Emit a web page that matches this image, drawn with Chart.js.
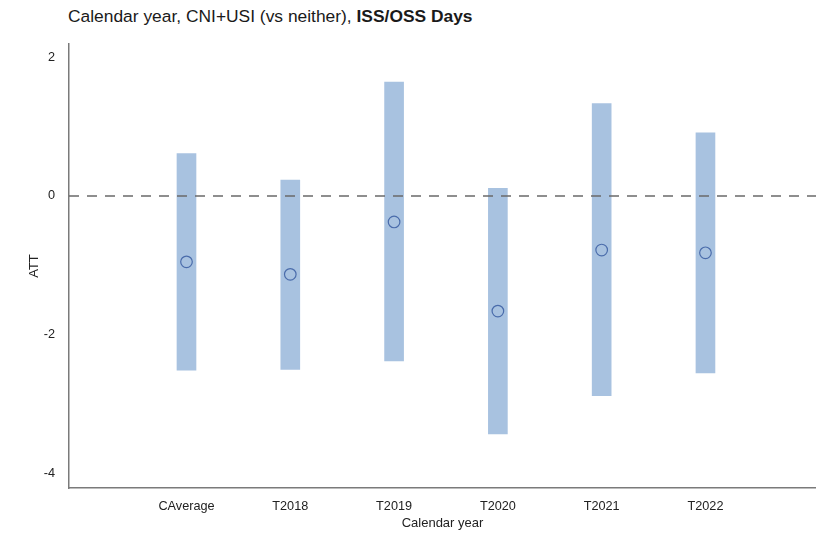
<!DOCTYPE html>
<html>
<head>
<meta charset="utf-8">
<script src="https://cdn.jsdelivr.net/npm/chart.js@4.4.1/dist/chart.umd.min.js"></script>
<style>
  html, body { margin: 0; padding: 0; background: #ffffff; }
  #wrap { position: relative; width: 816px; height: 538px; }
  #title {
    position: absolute; left: 68px; top: 8px;
    font-family: "Liberation Sans", Arial, sans-serif;
    font-size: 17.4px; line-height: 17.4px; color: #1a1a1a; white-space: nowrap;
  }
  canvas { position: absolute; left: 0; top: 0; }
</style>
</head>
<body>
<div id="wrap">
  <div id="title">Calendar year, CNI+USI (vs neither), <b>ISS/OSS Days</b></div>
  <canvas id="c" width="816" height="538"></canvas>
</div>
<script>
// Treatment effect estimates by calendar year, with interval bounds
const categories = ['CAverage', 'T2018', 'T2019', 'T2020', 'T2021', 'T2022'];
const estimates  = [-0.95, -1.13, -0.375, -1.66, -0.78, -0.82];
const lowerBound = [-2.51, -2.50, -2.38, -3.43, -2.88, -2.55];
const upperBound = [0.61, 0.23, 1.64, 0.11, 1.33, 0.91];
const yTicks     = [-4, -2, 0, 2];

const xMin = -1.132, xMax = 6.065;
const yMin = -4.21, yMax = 2.19;

const font = "'Liberation Sans', Arial, sans-serif";

const intervalData = categories.map((_, i) => ({ x: i, y: [lowerBound[i], upperBound[i]] }));
const pointData = categories.map((_, i) => ({ x: i, y: estimates[i] }));
const zeroLine = [{ x: xMin, y: 0 }, { x: xMax, y: 0 }];

new Chart(document.getElementById('c'), {
  type: 'bar',
  data: {
    datasets: [
      {
        type: 'scatter',
        data: pointData,
        order: 0,
        pointStyle: 'circle',
        pointRadius: 5.8,
        pointBorderWidth: 1.2,
        pointBorderColor: '#4a6cab',
        pointBackgroundColor: 'rgba(0,0,0,0)'
      },
      {
        type: 'line',
        data: zeroLine,
        order: 1,
        borderColor: '#6a6a6a',
        borderWidth: 1.5,
        borderDash: [10, 8],
        pointRadius: 0,
        fill: false
      },
      {
        type: 'bar',
        data: intervalData,
        order: 2,
        backgroundColor: '#a8c2e0',
        borderWidth: 0,
        barThickness: 19
      }
    ]
  },
  options: {
    responsive: false,
    animation: false,
    layout: { autoPadding: false, padding: { top: 44, right: 0, bottom: 0, left: 0 } },
    plugins: { legend: { display: false }, tooltip: { enabled: false }, title: { display: false } },
    scales: {
      x: {
        type: 'linear',
        min: xMin,
        max: xMax,
        offset: false,
        grid: { display: false, drawTicks: false },
        border: { display: true, color: '#7a7a7a', width: 1.5 },
        afterBuildTicks: (axis) => { axis.ticks = categories.map((_, i) => ({ value: i })); },
        afterFit: (axis) => { axis.height = 50; axis.paddingLeft = 0; axis.paddingRight = 0; },
        ticks: {
          padding: 11,
          maxRotation: 0,
          autoSkip: false,
          color: '#222222',
          font: { family: font, size: 12.7 },
          callback: (v) => categories[v] ?? ''
        },
        title: {
          display: true,
          text: 'Calendar year',
          color: '#222222',
          font: { family: font, size: 13 },
          padding: { top: 0, bottom: 7 }
        }
      },
      y: {
        type: 'linear',
        min: yMin,
        max: yMax,
        grid: { display: false, drawTicks: false },
        border: { display: true, color: '#7a7a7a', width: 1.5 },
        afterBuildTicks: (axis) => { axis.ticks = yTicks.map(v => ({ value: v })); },
        afterFit: (axis) => { axis.width = 69; },
        ticks: {
          padding: 14,
          color: '#222222',
          font: { family: font, size: 12.7 }
        },
        title: {
          display: true,
          text: 'ATT',
          color: '#222222',
          font: { family: font, size: 13 },
          padding: { top: 27, bottom: 0 }
        }
      }
    }
  }
});
</script>
</body>
</html>
